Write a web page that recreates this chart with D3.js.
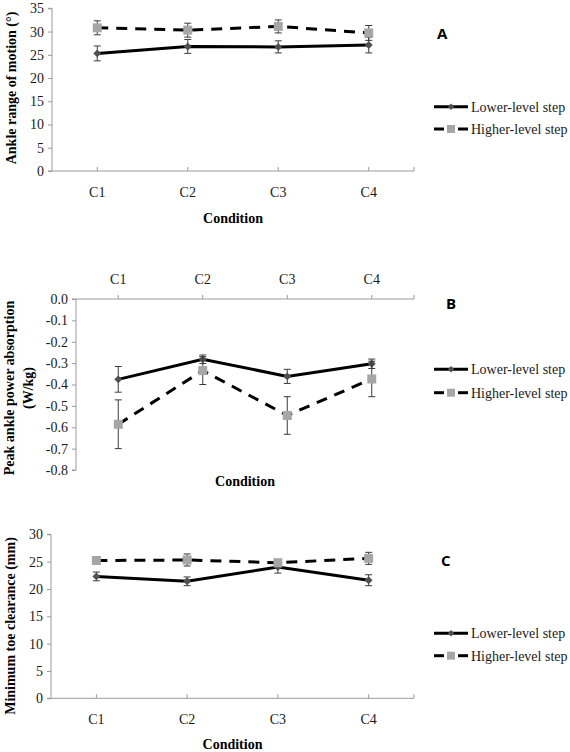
<!DOCTYPE html>
<html><head><meta charset="utf-8">
<script src="https://cdn.jsdelivr.net/npm/d3@7"></script>
<style>body{margin:0;background:#fff}svg{display:block}</style>
</head><body>
<svg id="chart" width="570" height="752"></svg>
<script>
const categories = ["C1","C2","C3","C4"];
const seriesNames = ["Lower-level step","Higher-level step"];

// Panel A: Ankle range of motion (°)
const romLower = [25.3, 26.8, 26.7, 27.1];
const romLowerErr = [1.6, 1.5, 1.3, 1.7];
const romHigher = [30.8, 30.3, 31.1, 29.7];
const romHigherErr = [1.5, 1.5, 1.4, 1.6];
const romTicks = [0,5,10,15,20,25,30,35];

// Panel B: Peak ankle power absorption (W/kg)
const powLower = [-0.376, -0.282, -0.362, -0.303];
const powLowerErr = [0.06, 0.02, 0.033, 0.022];
const powHigher = [-0.586, -0.335, -0.545, -0.374];
const powHigherErr = [0.114, 0.065, 0.088, 0.083];
const powTicks = [0.0,-0.1,-0.2,-0.3,-0.4,-0.5,-0.6,-0.7,-0.8];

// Panel C: Minimum toe clearance (mm)
const mtcLower = [22.3, 21.4, 24.0, 21.6];
const mtcLowerErr = [0.8, 0.8, 1.1, 1.0];
const mtcHigher = [25.2, 25.3, 24.8, 25.6];
const mtcHigherErr = [0.7, 1.1, 0.5, 1.1];
const mtcTicks = [0,5,10,15,20,25,30];

const svg = d3.select("#chart");
const SERIF = "'Liberation Serif','Times New Roman',serif";
const AXIS_COL = "#9a9a9a";
const DIAMOND_COL = "#505050";
const SQUARE_COL = "#a6a6a6";
const DASH = "11,8";
const FS = 14;

function drawPanel(p) {
  const g = svg.append("g");
  const x = d3.scalePoint().domain(categories).range([p.x0, p.x1]).padding(0.5);
  const y = d3.scaleLinear().domain(p.domain).range([p.yBottom, p.yTop]);

  // y axis
  const yAxis = d3.axisLeft(y).tickValues(p.ticks).tickSize(4).tickPadding(4)
    .tickFormat(v => d3.format(p.fmt)(v).replace("\u2212","-"));
  const ya = g.append("g").attr("transform", `translate(${p.x0},0)`).call(yAxis);
  ya.select(".domain").attr("stroke", AXIS_COL).attr("d", `M-4,${p.yBottom}H0V${p.yTop}H-4`);
  ya.selectAll(".tick line").attr("stroke", AXIS_COL);
  ya.selectAll(".tick text").attr("font-family", SERIF).attr("font-size", FS).attr("fill", "#1a1a1a");

  // x axis line with ticks at categories (+ end)
  const axY = p.xAxisTop ? p.yTop : p.yBottom;
  const xg = g.append("g");
  xg.append("line").attr("x1", p.x0).attr("x2", p.x1).attr("y1", axY).attr("y2", axY).attr("stroke", AXIS_COL);
  const tickPos = categories.map(c => x(c)).concat([p.x1]);
  xg.selectAll("line.xt").data(tickPos).join("line").attr("class","xt")
    .attr("x1", d => d).attr("x2", d => d).attr("y1", axY).attr("y2", axY - 4).attr("stroke", AXIS_COL);
  xg.selectAll("text").data(categories).join("text")
    .attr("x", d => x(d)).attr("y", p.catLabelY).attr("text-anchor","middle").attr("dy","0.35em")
    .attr("font-family", SERIF).attr("font-size", FS).attr("fill", "#1a1a1a").text(d => d);

  // x title
  g.append("text").attr("x", (p.x0 + p.x1)/2).attr("y", p.xTitleY).attr("dy","0.35em")
    .attr("text-anchor","middle").attr("font-family", SERIF).attr("font-weight","bold")
    .attr("font-size", FS).text("Condition");

  // y title
  p.yTitle.forEach((t, i) => {
    g.append("text").attr("transform", `translate(${p.yTitleX[i]},${p.yTitleY}) rotate(-90)`)
      .attr("text-anchor","middle").attr("dy","0.35em")
      .attr("font-family", SERIF).attr("font-weight","bold").attr("font-size", FS).text(t);
  });

  // panel letter
  g.append("text").attr("x", p.letterX).attr("y", p.letterY).attr("dy","0.35em")
    .attr("font-family","'Open Sans','Liberation Sans',Arial,sans-serif").attr("font-weight","bold")
    .attr("font-size", 15).text(p.letter);

  const series = [
    {vals: p.lower, err: p.lowerErr, dash: null, shape: "diamond"},
    {vals: p.higher, err: p.higherErr, dash: DASH, shape: "square"}
  ];
  const line = d3.line().x((d,i) => x(categories[i])).y(d => y(d));

  series.forEach(s => {
    const sg = g.append("g");
    // error bars
    s.vals.forEach((v, i) => {
      const cx = x(categories[i]);
      const yt = y(v + s.err[i]), yb = y(v - s.err[i]);
      sg.append("line").attr("x1", cx).attr("x2", cx).attr("y1", yt).attr("y2", yb).attr("stroke", "#3a3a3a").attr("stroke-width", 1);
      [yt, yb].forEach(yy => sg.append("line").attr("x1", cx-3.5).attr("x2", cx+3.5).attr("y1", yy).attr("y2", yy).attr("stroke","#3a3a3a").attr("stroke-width",1));
    });
    sg.append("path").datum(s.vals).attr("d", line).attr("fill","none").attr("stroke","#000")
      .attr("stroke-width", 3).attr("stroke-dasharray", s.dash);
    s.vals.forEach((v, i) => {
      const cx = x(categories[i]), cy = y(v);
      if (s.shape === "diamond") {
        sg.append("path").attr("d", d3.symbol(d3.symbolDiamond2, 40)()).attr("transform", `translate(${cx},${cy})`).attr("fill", DIAMOND_COL);
      } else {
        sg.append("rect").attr("x", cx-4.5).attr("y", cy-4.5).attr("width", 9).attr("height", 9).attr("fill", SQUARE_COL);
      }
    });
  });

  // legend
  const lg = g.append("g");
  seriesNames.forEach((name, i) => {
    const ly = p.legendY[i];
    const lx0 = 434, lx1 = 468, mx = 451;
    if (i === 0) {
      lg.append("line").attr("x1", lx0).attr("x2", lx1).attr("y1", ly).attr("y2", ly).attr("stroke","#000").attr("stroke-width",3);
      lg.append("path").attr("d", d3.symbol(d3.symbolDiamond2, 26)()).attr("transform", `translate(${mx},${ly})`).attr("fill", DIAMOND_COL);
    } else {
      lg.append("line").attr("x1", lx0).attr("x2", lx0 + 10).attr("y1", ly).attr("y2", ly).attr("stroke","#000").attr("stroke-width",3);
      lg.append("line").attr("x1", lx1 - 10).attr("x2", lx1).attr("y1", ly).attr("y2", ly).attr("stroke","#000").attr("stroke-width",3);
      lg.append("rect").attr("x", mx-4).attr("y", ly-4).attr("width", 8).attr("height", 8).attr("fill", SQUARE_COL);
    }
    lg.append("text").attr("x", 471).attr("y", ly).attr("dy","0.35em").attr("font-family", SERIF)
      .attr("font-size", FS).attr("fill","#1a1a1a").text(name);
  });
}

drawPanel({
  x0: 52, x1: 414, yTop: 8.3, yBottom: 171, domain: [0,35], ticks: romTicks, fmt: "d",
  xAxisTop: false, catLabelY: 192.5, xTitleY: 218,
  yTitle: ["Ankle range of motion (°)"], yTitleX: [11], yTitleY: 88,
  letter: "A", letterX: 437, letterY: 34,
  lower: romLower, lowerErr: romLowerErr, higher: romHigher, higherErr: romHigherErr,
  legendY: [106.7, 129]
});

drawPanel({
  x0: 76, x1: 414, yTop: 299, yBottom: 470, domain: [-0.8, 0], ticks: powTicks, fmt: ".1f",
  xAxisTop: true, catLabelY: 279.5, xTitleY: 481,
  yTitle: ["Peak ankle power absorption", "(W/kg)"], yTitleX: [9.5, 28], yTitleY: 388,
  letter: "B", letterX: 446, letterY: 304,
  lower: powLower, lowerErr: powLowerErr, higher: powHigher, higherErr: powHigherErr,
  legendY: [369.3, 392.7]
});

drawPanel({
  x0: 51, x1: 414, yTop: 534.3, yBottom: 698.3, domain: [0,30], ticks: mtcTicks, fmt: "d",
  xAxisTop: false, catLabelY: 719.3, xTitleY: 744.3,
  yTitle: ["Minimum toe clearance (mm)"], yTitleX: [10], yTitleY: 626,
  letter: "C", letterX: 441, letterY: 561,
  lower: mtcLower, lowerErr: mtcLowerErr, higher: mtcHigher, higherErr: mtcHigherErr,
  legendY: [633.3, 655.7]
});
</script>
</body></html>
